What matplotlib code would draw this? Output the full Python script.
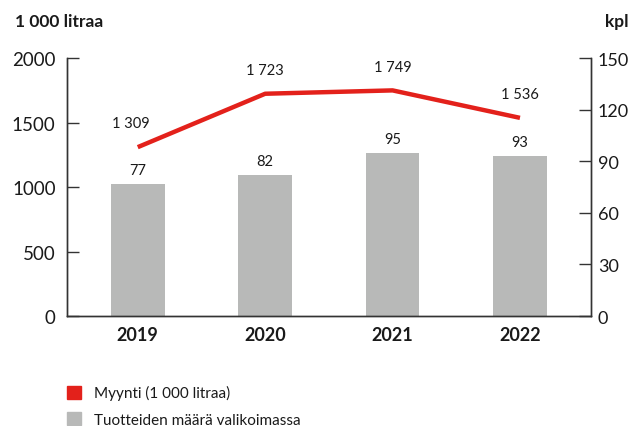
import matplotlib.pyplot as plt
from matplotlib.patches import Patch
import numpy as np

plt.rcParams['font.family'] = ['Lato', 'DejaVu Sans']

years = ['2019', '2020', '2021', '2022']
myynti = [1309, 1723, 1749, 1536]          # 1 000 litraa (vasen akseli)
tuotteet = [77, 82, 95, 93]                 # kpl (oikea akseli)
myynti_labels = ['1 309', '1 723', '1 749', '1 536']

red = '#e3211b'
grey = '#b8b9b8'
txt = '#1a1a1a'

fig = plt.figure(figsize=(6.3, 4.27), dpi=100)
ax = fig.add_axes([0.106, 0.2576, 0.832, 0.6042])
ax2 = ax.twinx()
x = np.arange(len(years))

# pylväät oikealle akselille, viiva vasemmalle
ax2.bar(x, tuotteet, width=0.42, color=grey, zorder=1)
for xi, v in zip(x, tuotteet):
    ax2.annotate(str(v), (xi, v), xytext=(0, 5), textcoords='offset points',
                 ha='center', va='bottom', fontsize=10.5, color=txt)

ax.set_zorder(ax2.get_zorder() + 1)
ax.patch.set_visible(False)
ax.plot(x, myynti, color=red, lw=3.2, solid_capstyle='butt', zorder=3)
for xi, v, lab in zip(x, myynti, myynti_labels):
    ax.annotate(lab, (xi, v), xytext=(-5 if xi == 0 else 0, 12), textcoords='offset points',
                ha='center', va='bottom', fontsize=10.5, color=txt)

ax.set_xlim(-0.557, 3.557)
ax.set_ylim(0, 2000)
ax2.set_ylim(0, 150)
ax.set_yticks([0, 500, 1000, 1500, 2000])
ax2.set_yticks([0, 30, 60, 90, 120, 150])
ax.set_xticks(x)
ax.set_xticklabels(years, fontsize=13, fontweight='bold', color=txt)
ax.tick_params(axis='x', length=0, pad=7)
ax.tick_params(axis='y', direction='in', length=8.5, width=1, pad=8,
               labelsize=13.5, labelcolor=txt, color='#333333')
ax2.tick_params(axis='y', direction='in', length=8.5, width=1, pad=5,
                labelsize=13, labelcolor=txt, color='#333333')

for a in (ax, ax2):
    a.spines['top'].set_visible(False)
    for s in ('left', 'right', 'bottom'):
        a.spines[s].set_color('#333333')
        a.spines[s].set_linewidth(1)

fig.text(0.024, 0.948, '1 000 litraa', fontsize=12.5, fontweight='bold', color=txt, va='center')
fig.text(0.997, 0.948, 'kpl', fontsize=12.5, fontweight='bold', color=txt, va='center', ha='right')

handles = [Patch(color=red, label='Myynti (1 000 litraa)'),
           Patch(color=grey, label='Tuotteiden määrä valikoimassa')]
fig.legend(handles=handles, loc='upper left', bbox_to_anchor=(0.106, 0.095),
           frameon=False, fontsize=11, handlelength=0.9, handleheight=0.9,
           handletextpad=0.85, labelspacing=0.75, borderaxespad=0, borderpad=0,
           labelcolor=txt)

fig.savefig('out.png', dpi=100)
